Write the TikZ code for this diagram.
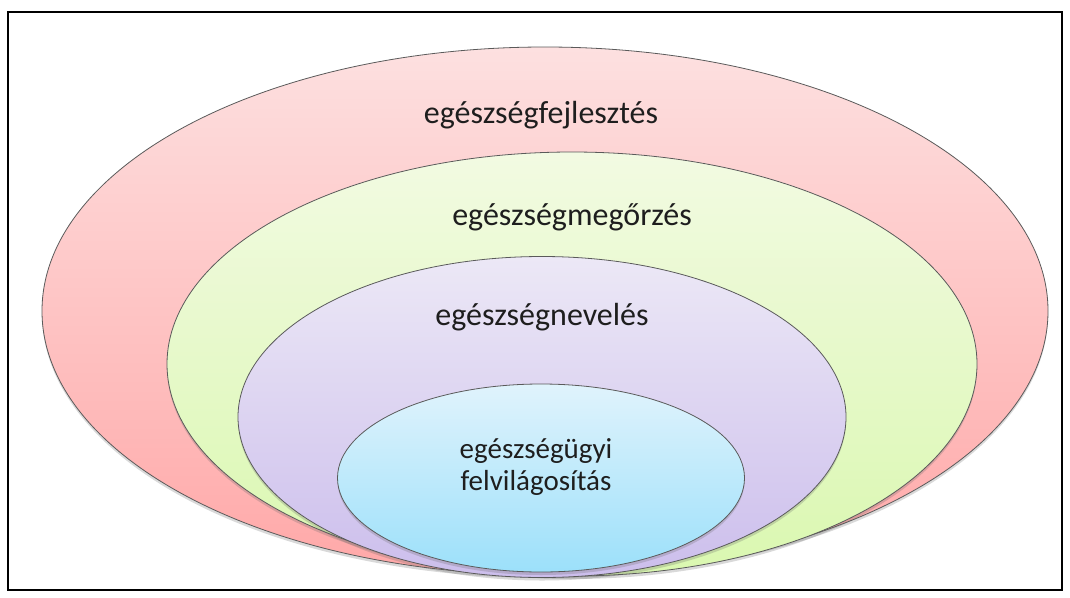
\documentclass[tikz,border=0pt]{standalone}
\usepackage{fontspec}
\setmainfont{Carlito}
\usetikzlibrary{shapes.geometric,shadows}
\definecolor{pinkT}{RGB}{253,224,224}
\definecolor{pinkB}{RGB}{255,168,168}
\definecolor{greenT}{RGB}{242,250,226}
\definecolor{greenB}{RGB}{218,248,176}
\definecolor{purpT}{RGB}{236,232,246}
\definecolor{purpB}{RGB}{204,190,236}
\definecolor{blueT}{RGB}{224,243,252}
\definecolor{blueB}{RGB}{156,224,250}
\definecolor{edge}{RGB}{90,90,90}
\definecolor{txt}{RGB}{30,30,30}
\tikzset{
  ring/.style={ellipse, draw=edge, line width=0.8pt, inner sep=0pt,
    drop shadow={shadow xshift=0pt, shadow yshift=-3pt, opacity=0.25, fill=black!60}},
  lbl/.style={font=\fontsize{32}{34}\selectfont, text=txt, anchor=base, inner sep=0pt},
  lblsmall/.style={lbl, font=\fontsize{29}{31}\selectfont},
}
\begin{document}
\begin{tikzpicture}[x=1pt,y=-1pt]
\useasboundingbox (0,0) rectangle (1070,597);
\node[draw=black, line width=1.6pt, minimum width=1054pt, minimum height=578pt, inner sep=0pt] (frame) at (535,301) {};
\node[ring, top color=pinkT, bottom color=pinkB, minimum width=1006pt, minimum height=528pt] (pink) at (545,311) {};
\node[ring, top color=greenT, bottom color=greenB, minimum width=810pt, minimum height=424pt] (green) at (572,364) {};
\node[ring, top color=purpT, bottom color=purpB, minimum width=608pt, minimum height=321pt] (purple) at (542,417) {};
\node[ring, top color=blueT, bottom color=blueB, minimum width=407pt, minimum height=188pt] (blue) at (541,478) {};
\node[lbl] (t1) at (541,123) {egészségfejlesztés};
\node[lbl] (t2) at (572,225) {egészségmegőrzés};
\node[lbl] (t3) at (542,325) {egészségnevelés};
\node[lblsmall] (t4) at (536,458) {egészségügyi};
\node[lblsmall] (t5) at (536,490) {felvilágosítás};
\end{tikzpicture}
\end{document}
